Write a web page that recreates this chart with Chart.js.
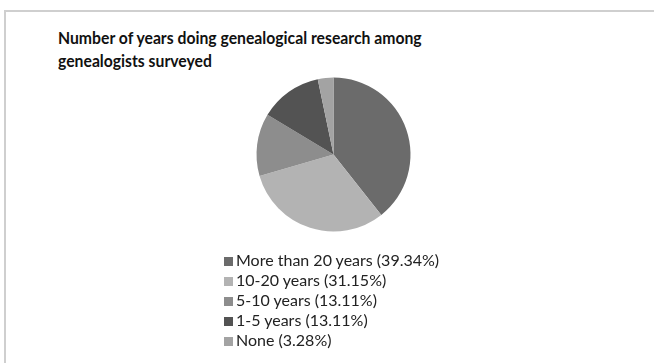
<!DOCTYPE html>
<html>
<head>
<meta charset="utf-8">
<script src="https://cdn.jsdelivr.net/npm/chart.js@4.4.1/dist/chart.umd.min.js"></script>
<style>
    body { margin: 0; background: #fff; }
    #wrap { position: relative; width: 654px; height: 363px; overflow: hidden; }
    #frame {
        position: absolute; left: 4px; top: 10px; width: 700px; height: 400px;
        border-left: 2px solid #cfcfcf; border-top: 2px solid #cfcfcf;
    }
    #pie { position: absolute; left: 0; top: 0; }
    #title {
        position: absolute; left: 58px; top: 26px; white-space: nowrap;
        font-family: Lato, sans-serif; font-weight: bold; font-size: 17.5px;
        line-height: 23px; color: #111;
        transform: scaleX(0.9); transform-origin: left top;
    }
    #legend {
        position: absolute; left: 224px; top: 250px; margin: 0; padding: 0;
        list-style: none; font-family: Lato, sans-serif; font-size: 16px;
        line-height: 20px; color: #222;
    }
    #legend li span {
        display: inline-block; width: 9px; height: 9px; margin-right: 3px;
    }
</style>
</head>
<body>
<div id="wrap">
    <div id="frame"></div>
    <div id="title">Number of years doing genealogical research among<br>genealogists surveyed</div>
    <canvas id="pie" width="654" height="363"></canvas>
    <ul id="legend"></ul>
</div>
<script>
    const categories = ['More than 20 years', '10-20 years', '5-10 years', '1-5 years', 'None'];
    const shares = [39.34, 31.15, 13.11, 13.11, 3.28];
    const colors = ['#6b6b6b', '#b3b3b3', '#8d8d8d', '#535353', '#a3a3a3'];

    const chart = new Chart(document.getElementById('pie'), {
        type: 'pie',
        data: {
            labels: categories,
            datasets: [{
                data: shares,
                backgroundColor: colors,
                borderWidth: 0
            }]
        },
        options: {
            responsive: false,
            animation: false,
            layout: {
                padding: { left: 256.5, right: 243.5, top: 77.5, bottom: 131.5 }
            },
            plugins: {
                legend: { display: false },
                title: { display: false },
                tooltip: { enabled: false }
            }
        }
    });

    // html legend from the chart's own labels
    const list = document.getElementById('legend');
    chart.data.labels.forEach((label, i) => {
        const li = document.createElement('li');
        const box = document.createElement('span');
        box.style.background = colors[i];
        li.appendChild(box);
        li.appendChild(document.createTextNode(label + ' (' + shares[i].toFixed(2) + '%)'));
        list.appendChild(li);
    });
</script>
</body>
</html>
